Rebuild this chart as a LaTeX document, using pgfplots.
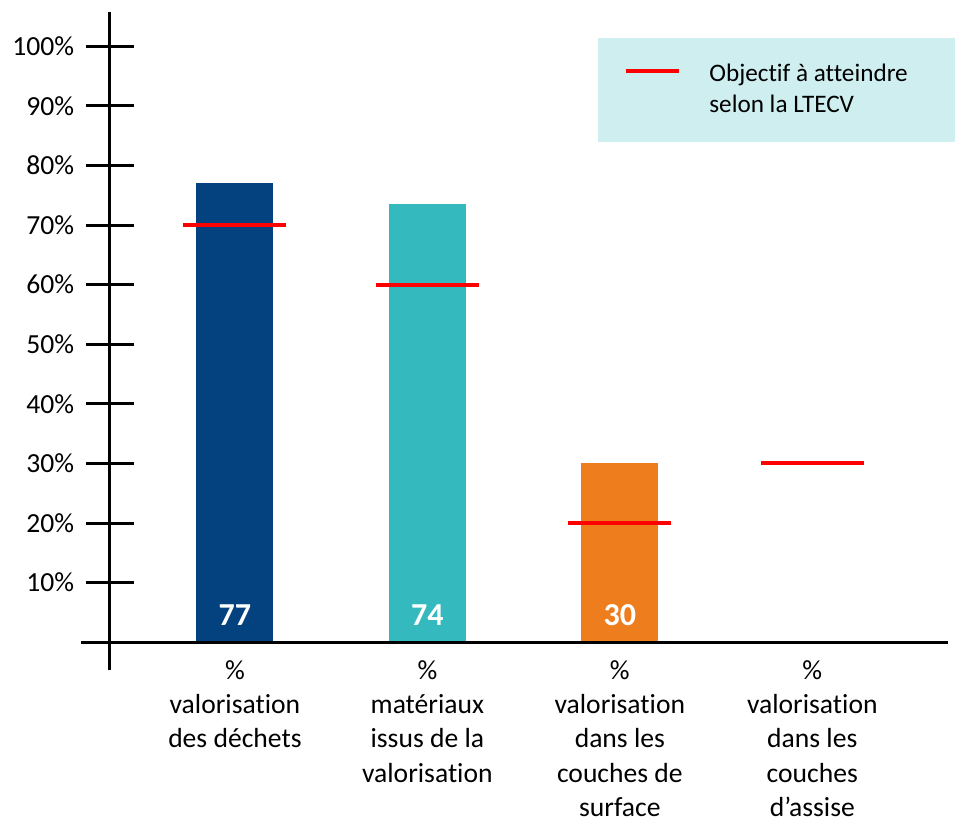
\documentclass[border=0pt]{standalone}
\usepackage{pgfplots}
\pgfplotsset{compat=1.18}
\usepackage{fontspec}
\setmainfont{Carlito}[RawFeature={-liga}]
\definecolor{cblue}{RGB}{3,66,126}
\definecolor{cteal}{RGB}{52,185,190}
\definecolor{corange}{RGB}{238,125,30}
\definecolor{legcyan}{RGB}{207,238,240}
\definecolor{cred}{RGB}{255,0,0}
\begin{document}
\begin{tikzpicture}
\begin{axis}[
  at={(0,0)}, anchor=south west,
  scale only axis,
  width=419pt, height=315.15pt,
  xmin=-0.649, xmax=3.705,
  ymin=0, ymax=105.75,
  clip=false,
  axis x line=bottom, axis y line=left,
  x axis line style={draw=none},
  y axis line style={draw=none},
  xtick={0,1,2,3},
  xticklabels={{\%\\valorisation\\des déchets},{\%\\matériaux\\issus de la\\valorisation},{\%\\valorisation\\dans les\\couches de\\surface},{\%\\valorisation\\dans les\\couches\\d’assise}},
  xtick align=inside,
  xtick style={draw=none},
  xticklabel style={align=center, anchor=north, inner sep=0pt, yshift=-8.85pt, font=\fontsize{13.8}{17.15}\selectfont},
  ytick={10,20,30,40,50,60,70,80,90,100},
  yticklabels={10\%,20\%,30\%,40\%,50\%,60\%,70\%,80\%,90\%,100\%},
  ytick align=center,
  major tick length=24pt,
  ytick style={line width=1.5pt, black},
  yticklabel style={anchor=east, inner sep=0pt, xshift=-5.8pt, font=\fontsize{13.8}{16}\selectfont},
  legend style={at={(rel axis cs:0.5823,0.9588)}, anchor=north west, fill=legcyan, draw=none,
    inner xsep=13pt, inner ysep=10.5pt, font=\fontsize{12.6}{15.5}\selectfont,
    nodes={inner sep=0pt, text depth=}, cells={anchor=base west},
    /tikz/every odd column/.append style={column sep=14pt}},
  legend image code/.code={\draw[cred, line width=2pt] (0pt,5pt) -- (26.5pt,5pt);},
]
\addplot[ybar, bar width=0.4, fill=cblue, draw=none, forget plot] coordinates {(0,77)};
\addplot[ybar, bar width=0.4, fill=cteal, draw=none, forget plot] coordinates {(1,73.5)};
\addplot[ybar, bar width=0.4, fill=corange, draw=none, forget plot] coordinates {(2,30)};
\addplot[draw=none, mark=none, forget plot, point meta=explicit symbolic,
  nodes near coords, nodes near coords align=center,
  nodes near coords style={white, anchor=center, inner sep=0pt, font=\fontsize{16}{18}\bfseries}]
  coordinates {(0,4.58)[77] (1,4.58)[74] (2,4.58)[30]};
\addplot[only marks, mark=-, mark size=25.75pt, cred, mark options={line width=2pt}]
  coordinates {(0,70) (1,60) (2,20) (3,30)};
\addlegendentry{\begin{tabular}[t]{@{}p{112pt}@{}}Objectif à atteindre\\selon la LTECV\end{tabular}}
\draw[line width=1.5pt, black] (axis cs:-0.80,0) -- (axis cs:3.705,0);
\draw[line width=1.5pt, black] (axis cs:-0.649,-4.7) -- (axis cs:-0.649,105.75);
\end{axis}
\pgfresetboundingbox
\path[use as bounding box] (-55pt,-87.35pt) rectangle (422.5pt,321.15pt);
\end{tikzpicture}
\end{document}
